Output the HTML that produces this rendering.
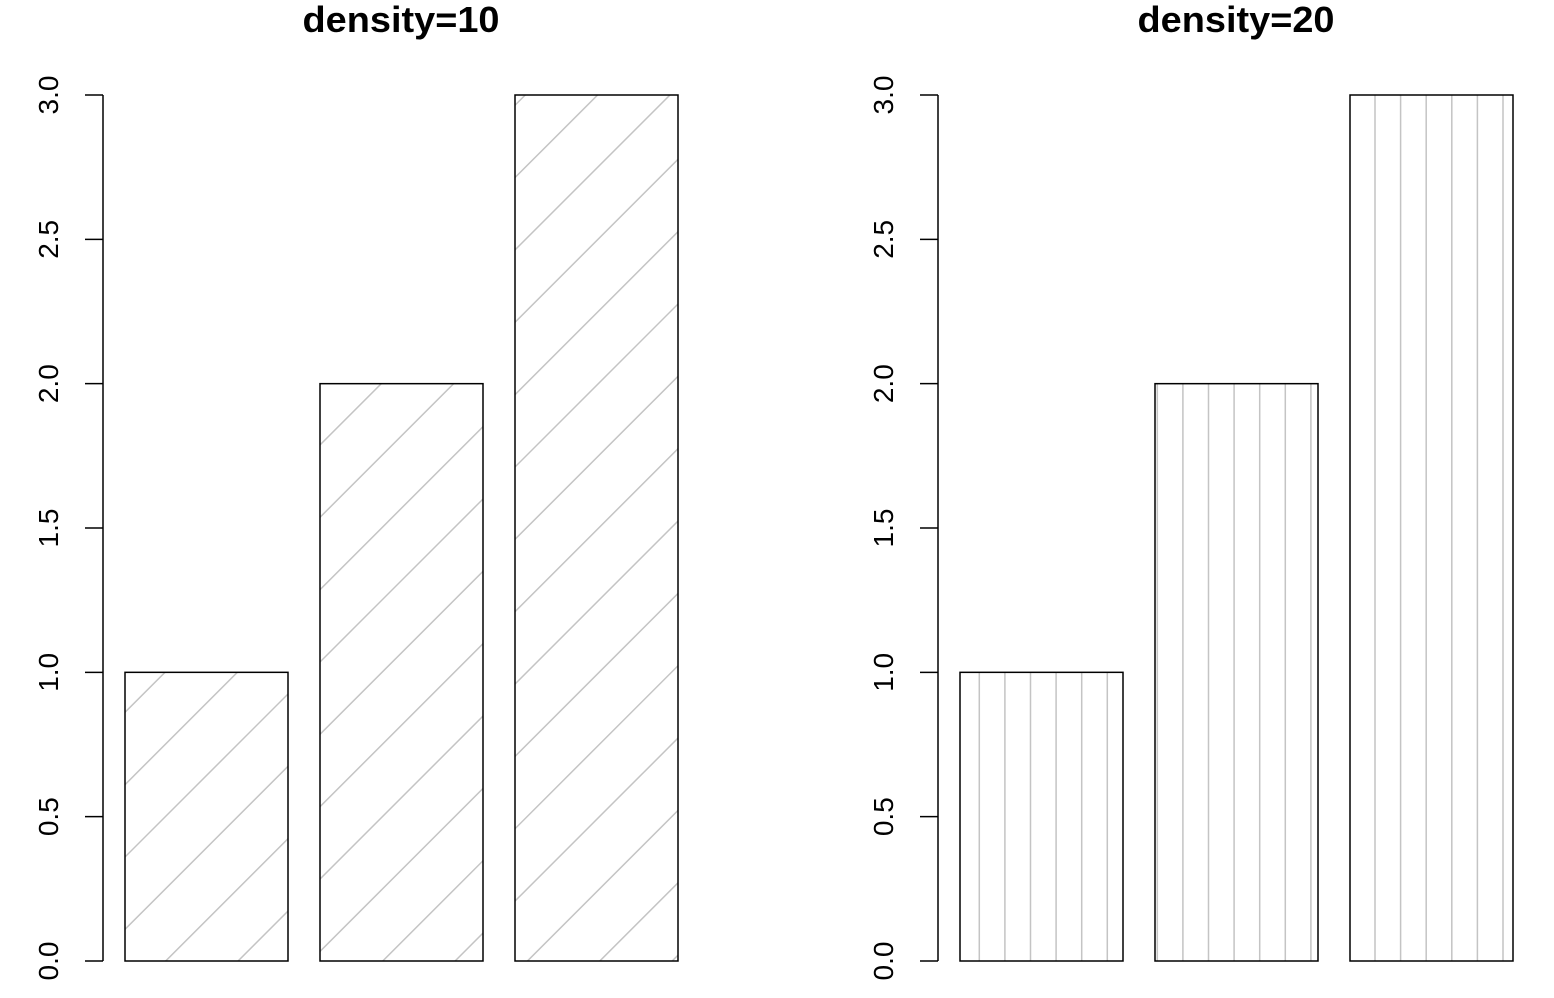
<!DOCTYPE html>
<html><head><meta charset="utf-8"><style>html,body{margin:0;padding:0;background:#fff;overflow:hidden;width:1554px;height:998px}svg{display:block}</style></head>
<body>
<svg id="s" width="1554" height="998" xmlns="http://www.w3.org/2000/svg" font-family="Liberation Sans, sans-serif">
<defs></defs>
</svg>
<script>
const s=document.getElementById('s');let h='';
const y0=961,sc=866/3;
function panel(ax,cx,title){
  h+=`<text x="${cx}" y="32" font-size="36" font-weight="bold" text-anchor="middle" textLength="197" lengthAdjust="spacingAndGlyphs">${title}</text>`;
  h+=`<line x1="${ax}" y1="95" x2="${ax}" y2="961" stroke="#000" stroke-width="1.5"/>`;
  for(let i=0;i<=6;i++){const v=i*0.5,y=y0-v*sc;
    h+=`<line x1="${ax-18}" y1="${y}" x2="${ax}" y2="${y}" stroke="#000" stroke-width="1.5"/>`;
    h+=`<text transform="translate(${ax-45},${y}) rotate(-90)" font-size="28" text-anchor="middle">${v.toFixed(1)}</text>`;}
}
panel(103,401,'density=10');panel(938,1236,'density=20');
const L=[125,320,515],R=[960,1155,1350],off=[19.3,2.3,25];
for(let i=0;i<3;i++){
  const x1=L[i],top=y0-(i+1)*sc;
  h+=`<clipPath id="c${i}"><rect x="${x1}" y="${top}" width="163" height="${y0-top}"/></clipPath><g clip-path="url(#c${i})" stroke="#c4c4c4" stroke-width="1.5">`;
  for(let k=-20;k<30;k++){const c=1126.7+k*72.35;
    h+=`<line x1="${c-1100}" y1="1100" x2="${c}" y2="0"/>`;}
  h+=`</g><rect x="${x1}" y="${top}" width="163" height="${y0-top}" fill="none" stroke="#000" stroke-width="1.5"/>`;
  const r1=R[i];
  for(let x=r1+off[i];x<r1+163;x+=25.6){h+=`<line x1="${x}" y1="${top}" x2="${x}" y2="${y0}" stroke="#c4c4c4" stroke-width="1.5"/>`;}
  h+=`<rect x="${r1}" y="${top}" width="163" height="${y0-top}" fill="none" stroke="#000" stroke-width="1.5"/>`;
}
s.innerHTML+=h;
</script>
</body></html>
